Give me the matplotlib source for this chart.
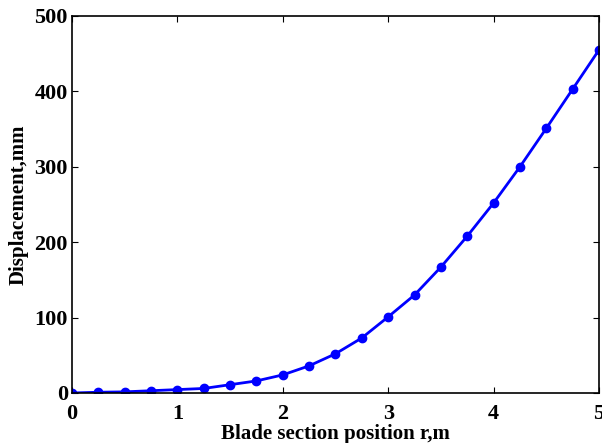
import numpy as np
import matplotlib.pyplot as plt

# blade section positions (m) and tip displacement (mm)
r = [0, 0.25, 0.5, 0.75, 1.0, 1.25, 1.5, 1.75, 2.0, 2.25, 2.5,
     2.75, 3.0, 3.25, 3.5, 3.75, 4.0, 4.25, 4.5, 4.75, 5.0]
disp = [0, 1, 1.5, 3, 4.5, 6, 11, 16, 24, 36, 52,
        73, 101, 130, 167, 208, 252, 300, 351, 403, 455]

plt.rcParams['font.family'] = ['Liberation Serif', 'DejaVu Serif']
plt.rcParams['font.weight'] = 'bold'

fig = plt.figure(figsize=(6.02, 4.43), dpi=100)
ax = fig.add_axes([0.1196, 0.1129, 0.8754, 0.851])

ax.plot(r, disp, color='b', lw=2, marker='o', ms=6)

ax.set_xlim(0, 5)
ax.set_ylim(0, 500)
ax.set_xticks(np.arange(0, 6, 1))
ax.set_yticks(np.arange(0, 600, 100))
ax.tick_params(direction='in', top=True, right=True, labelsize=16, length=4, pad=3)
ax.tick_params(axis='x', pad=8)
for lbl in ax.get_xticklabels() + ax.get_yticklabels():
    lbl.set_fontweight('bold')
for s in ax.spines.values():
    s.set_linewidth(1.2)

ax.set_xlabel('Blade section position r,m', fontsize=15, fontweight='bold', labelpad=0)
ax.set_ylabel('Displacement,mm', fontsize=15, fontweight='bold', labelpad=4)

fig.savefig('out.png', dpi=100)
